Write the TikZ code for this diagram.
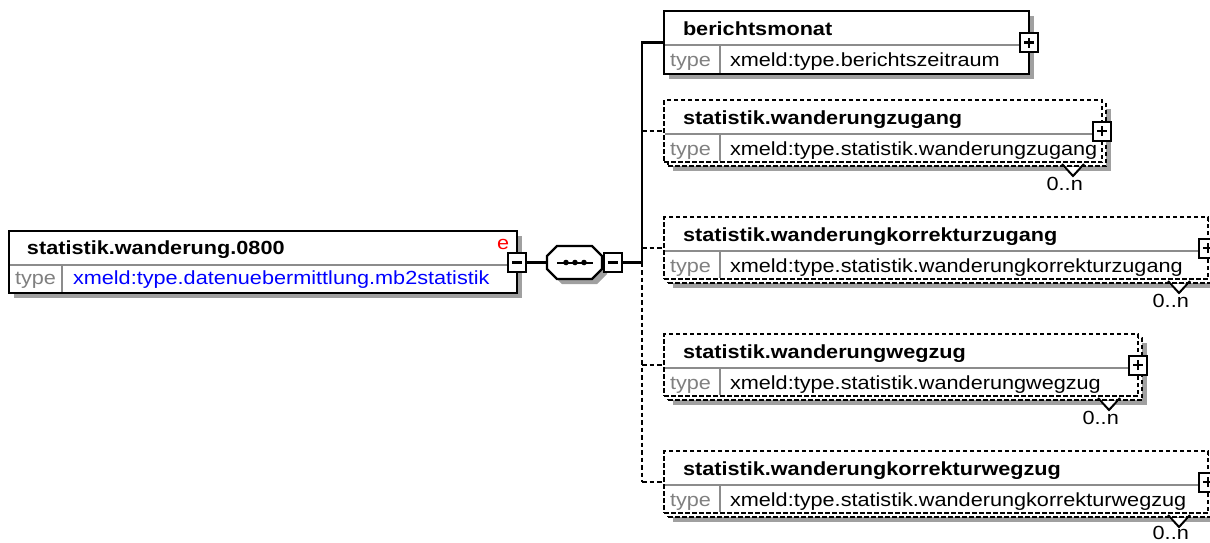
\documentclass[tikz,border=0pt]{standalone}
\usepackage{fontspec}
\setmainfont{Liberation Sans}[FakeStretch=1.14]
\usetikzlibrary{shadows}
\definecolor{shgray}{HTML}{A0A0A0}
\definecolor{tgray}{HTML}{808080}
\definecolor{sgray}{HTML}{8C8C8C}
\definecolor{vblue}{HTML}{0000FF}
\definecolor{ered}{HTML}{FF0000}
\tikzset{
 sh/.style={drop shadow={shadow xshift=5pt, shadow yshift=-5pt, fill=shgray, opacity=1}},
 elbox/.style={draw=black, line width=2.5pt, fill=white, anchor=north west, inner sep=0pt, outer sep=0pt},
 optline/.style={draw=black, line width=2pt, dash pattern=on 4.5pt off 2.5pt, fill=white, anchor=north west, inner sep=0pt, outer sep=0pt},
 sepline/.style={draw=sgray, line width=1.8pt},
 conn/.style={draw=black, line width=2.2pt},
 dconn/.style={conn, dash pattern=on 4.5pt off 3pt},
 pmbox/.style={draw=black, line width=2pt, fill=white, minimum width=18pt, minimum height=19pt, inner sep=0pt, outer sep=0pt},
 minusbox/.style={pmbox, path picture={\draw[line width=2.2pt] ([xshift=-5pt]path picture bounding box.center) -- ([xshift=5pt]path picture bounding box.center);}},
 plusbox/.style={pmbox, path picture={\draw[line width=2.2pt] ([xshift=-5pt]path picture bounding box.center) -- ([xshift=5pt]path picture bounding box.center);
   \draw[line width=2.2pt] ([yshift=-5pt]path picture bounding box.center) -- ([yshift=5pt]path picture bounding box.center);}},
 lbl/.style={anchor=base west, inner sep=0pt, outer sep=0pt},
}
\newcommand\optel[5]{%
  \node[optline, sh, minimum width={#3-664}, minimum height=62pt] (#1back) at (668,{#2+4}) {};
  \node[optline, minimum width={#3-664}, minimum height=62pt] (#1) at (664,#2) {};
  \draw[sepline] (665,{#2+34}) -- ({#3-1},{#2+34});
  \draw[sepline] (720,{#2+34}) -- (720,{#2+61});
  \node[lbl] (#1title) at (683,{#2+24}) {\bfseries #4};
  \node[lbl, text=tgray] (#1tl) at (670,{#2+55}) {type};
  \node[lbl] (#1type) at (730,{#2+55}) {#5};
  \node[plusbox] (#1plus) at (#3,{#2+31}) {};
  \fill[white] ({#3-39},{#2+67}) -- ({#3-29},{#2+76}) -- ({#3-19},{#2+67}) -- cycle;
  \draw[line width=2pt] ({#3-40},{#2+64}) -- ({#3-29},{#2+76}) -- ({#3-18},{#2+64});
  \node[anchor=base east, inner sep=0pt] (#1mult) at ({#3-19},{min(#2+90,539)}) {0..n};
}
\begin{document}
\begin{tikzpicture}[x=1pt,y=-1pt,font=\fontsize{19}{22}\selectfont]
\useasboundingbox (0,0) rectangle (1210,542);
\clip (0,0) rectangle (1210,542);
% root element
\node[elbox, sh, minimum width=508pt, minimum height=62pt] (root) at (9,231) {};
\draw[sepline] (10,265) -- (516,265);
\draw[sepline] (62,265) -- (62,292);
\node[lbl] (roottitle) at (27,254) {\bfseries statistik.wanderung.0800};
\node[lbl, text=ered] (rootabs) at (497,249) {e};
\node[lbl, text=tgray] (roottl) at (15,284) {type};
\node[lbl, text=vblue] (roottype) at (73,284) {xmeld:type.datenuebermittlung.mb2statistik};
\node[minusbox] (rminus) at (517,262.5) {};
% sequence compositor
\draw[line width=2.2pt, fill=white, sh] (557,246) -- (592,246) -- (602,256) -- (602,269) -- (592,279) -- (557,279) -- (547,269) -- (547,256) -- cycle;
\node[minimum width=55pt, minimum height=33pt, inner sep=0pt, outer sep=0pt] (seq) at (574.5,262.5) {};
\draw[line width=2pt] (557,262.5) -- (593,262.5);
\fill (566,262.5) circle (2.8pt) (575,262.5) circle (2.8pt) (584,262.5) circle (2.8pt);
\node[minusbox] (sminus) at (612.5,262.5) {};
% berichtsmonat
\node[elbox, sh, minimum width=365pt, minimum height=63pt] (bm) at (664,11) {};
\draw[sepline] (665,45) -- (1028,45);
\draw[sepline] (720,45) -- (720,73);
\node[lbl] (bmtitle) at (683,35) {\bfseries berichtsmonat};
\node[lbl, text=tgray] (bmtl) at (670,66) {type};
\node[lbl] (bmtype) at (730,66) {xmeld:type.berichtszeitraum};
\node[plusbox] (bmplus) at (1029,42.5) {};
% optional repeated elements
\optel{zu}{100}{1102}{statistik.wanderungzugang}{xmeld:type.statistik.wanderungzugang}
\optel{kz}{217}{1208}{statistik.wanderungkorrekturzugang}{xmeld:type.statistik.wanderungkorrekturzugang}
\optel{wz}{334}{1138}{statistik.wanderungwegzug}{xmeld:type.statistik.wanderungwegzug}
\optel{kw}{451}{1208}{statistik.wanderungkorrekturwegzug}{xmeld:type.statistik.wanderungkorrekturwegzug}
% connectors
\coordinate (tm) at (642,262.5);
\draw[conn] (rminus.east) -- (seq.west);
\draw[conn] (sminus.east) -- (tm);
\draw[conn] (tm) |- (bm.west);
\draw[dconn] (tm) -- (tm |- kw.west);
\draw[dconn] (tm |- zu.west) -- (zu.west);
\draw[dconn] (tm |- kz.west) -- (kz.west);
\draw[dconn] (tm |- wz.west) -- (wz.west);
\draw[dconn] (tm |- kw.west) -- (kw.west);
\end{tikzpicture}
\end{document}
